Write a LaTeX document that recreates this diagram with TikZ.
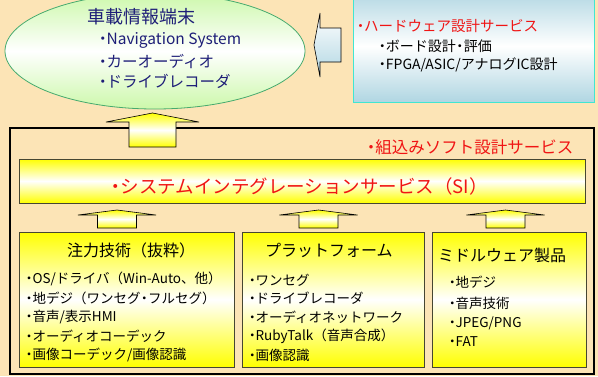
\documentclass[tikz,border=0pt]{standalone}
\usepackage{fontspec}
\setmainfont{Noto Sans CJK JP}
\usepackage{xcolor}
\usepackage{tikz}
\usetikzlibrary{shapes,arrows,positioning,fit,backgrounds,calc,shadows}

\definecolor{bgpeach}{RGB}{252,228,182}
\definecolor{navytext}{RGB}{30,30,120}
\definecolor{leafgreen}{RGB}{204,248,170}
\definecolor{ringgreen}{RGB}{70,170,110}
\definecolor{hwblue}{RGB}{176,214,226}
\definecolor{hwedge}{RGB}{64,230,210}
\definecolor{boxyellow}{RGB}{255,255,0}
\definecolor{boxedge}{RGB}{70,70,50}
\definecolor{svcred}{RGB}{240,20,20}

% leading bullet and inner dot, set narrow
\newcommand{\nk}{\kern-0.2em・\kern-0.25em}
\newcommand{\mk}{\kern-0.22em・\kern-0.22em}

\begin{document}
\begin{tikzpicture}[
    x=1pt, y=-1pt,
    ylwbox/.style={rectangle, draw=boxedge, top color=boxyellow, bottom color=boxyellow, middle color=white},
    hwbox/.style={rectangle, draw=hwedge, line width=1pt, top color=hwblue, bottom color=hwblue, middle color=white},
    ylwarrow/.style={draw=black, line width=0.6pt, top color=boxyellow, bottom color=boxyellow, middle color=white},
    cyanarrow/.style={draw=black, line width=0.6pt, top color=white, bottom color=hwblue},
    jtitle/.style={anchor=west, inner sep=0pt, font=\fontsize{16}{18}\selectfont},
    jitem/.style={anchor=west, inner sep=0pt, font=\fontsize{13.5}{16}\selectfont}
]

\fill[bgpeach] (0,0) rectangle (598,376);
\useasboundingbox (0,0) rectangle (598,376);

% terminal
\node[ellipse, draw=ringgreen, line width=0.8pt, top color=leafgreen, bottom color=leafgreen, middle color=white,
      minimum width=300, minimum height=116] (car) at (155,51) {};
\node[jtitle, text=navytext, font=\fontsize{18}{20}\selectfont] (cartitle) at (87,17) {車載情報端末};
\node[jitem, text=navytext, font=\fontsize{15.5}{18}\selectfont] (carnav) at (98,40) {\nk Navigation System};
\node[jitem, text=navytext, font=\fontsize{15.5}{18}\selectfont] (caraudio) at (98,61) {\nk カーオーディオ};
\node[jitem, text=navytext, font=\fontsize{15.5}{18}\selectfont] (carrec) at (98,81) {\nk ドライブレコーダ};

% hardware service
\node[hwbox, minimum width=241, minimum height=112] (hw) at (473.5,46) {};
\node[jitem, text=svcred, font=\fontsize{14.5}{16}\selectfont] (hwtitle) at (356,26) {\nk ハードウェア設計サービス};
\node[jitem, font=\fontsize{14}{16}\selectfont] (hwboard) at (378,46) {\nk ボード設計\mk 評価};
\node[jitem, font=\fontsize{14}{16}\selectfont] (hwfpga) at (378,65) {\nk FPGA/ASIC/アナログIC設計};

\draw[cyanarrow] (341,28) -- (320,28) -- (320,13) -- (314,45) -- (320,77) -- (320,62) -- (341,62) -- cycle;

% embedded software service
\node[rectangle, draw=black, line width=2pt, minimum width=584, minimum height=246] (embedded) at (302,251) {};
\node[jitem, text=svcred, font=\fontsize{16.5}{18}\selectfont] (embtitle) at (366,147) {\nk 組込みソフト設計サービス};

\draw[ylwarrow] (129,147) -- (129,122) -- (106,122) -- (152.5,113) -- (199,122) -- (176,122) -- (176,147) -- cycle;

\node[ylwbox, minimum width=566, minimum height=44] (si) at (302,181) {};
\node[inner sep=0pt, text=svcred, font=\fontsize{18.5}{20}\selectfont] (sitext) at (299,186) {\nk システムインテグレーションサービス（SI）};

\foreach \cx in {117,318.5,505.5}
  \draw[ylwarrow] (\cx-19.5,228) -- (\cx-19.5,215) -- (\cx-39,215) -- (\cx,210) -- (\cx+39,215) -- (\cx+19.5,215) -- (\cx+19.5,228) -- cycle;

% focus technologies
\node[ylwbox, minimum width=215, minimum height=135] (focus) at (126.5,299.5) {};
\node[jtitle] (focustitle) at (67,250) {注力技術（抜粋）};
\node[jitem] (focus1) at (25,279) {\nk OS/ドライバ（Win-Auto、他）};
\node[jitem] (focus2) at (25,298) {\nk 地デジ（ワンセグ\mk フルセグ）};
\node[jitem] (focus3) at (25,317) {\nk 音声/表示HMI};
\node[jitem] (focus4) at (25,336) {\nk オーディオコーデック};
\node[jitem] (focus5) at (25,355) {\nk 画像コーデック/画像認識};

% platform
\node[ylwbox, minimum width=182, minimum height=135] (platform) at (333,299.5) {};
\node[jtitle] (platformtitle) at (265,250) {プラットフォーム};
\node[jitem] (platform1) at (248,280) {\nk ワンセグ};
\node[jitem] (platform2) at (248,298) {\nk ドライブレコーダ};
\node[jitem] (platform3) at (248,317) {\nk オーディオネットワーク};
\node[jitem] (platform4) at (248,336) {\nk RubyTalk（音声合成）};
\node[jitem] (platform5) at (248,355) {\nk 画像認識};

% middleware
\node[ylwbox, minimum width=154, minimum height=135] (middleware) at (509,299.5) {};
\node[jtitle] (middlewaretitle) at (438,255) {ミドルウェア製品};
\node[jitem] (middleware1) at (448,282) {\nk 地デジ};
\node[jitem] (middleware2) at (448,303) {\nk 音声技術};
\node[jitem] (middleware3) at (448,323) {\nk JPEG/PNG};
\node[jitem] (middleware4) at (448,342) {\nk FAT};

\end{tikzpicture}
\end{document}
